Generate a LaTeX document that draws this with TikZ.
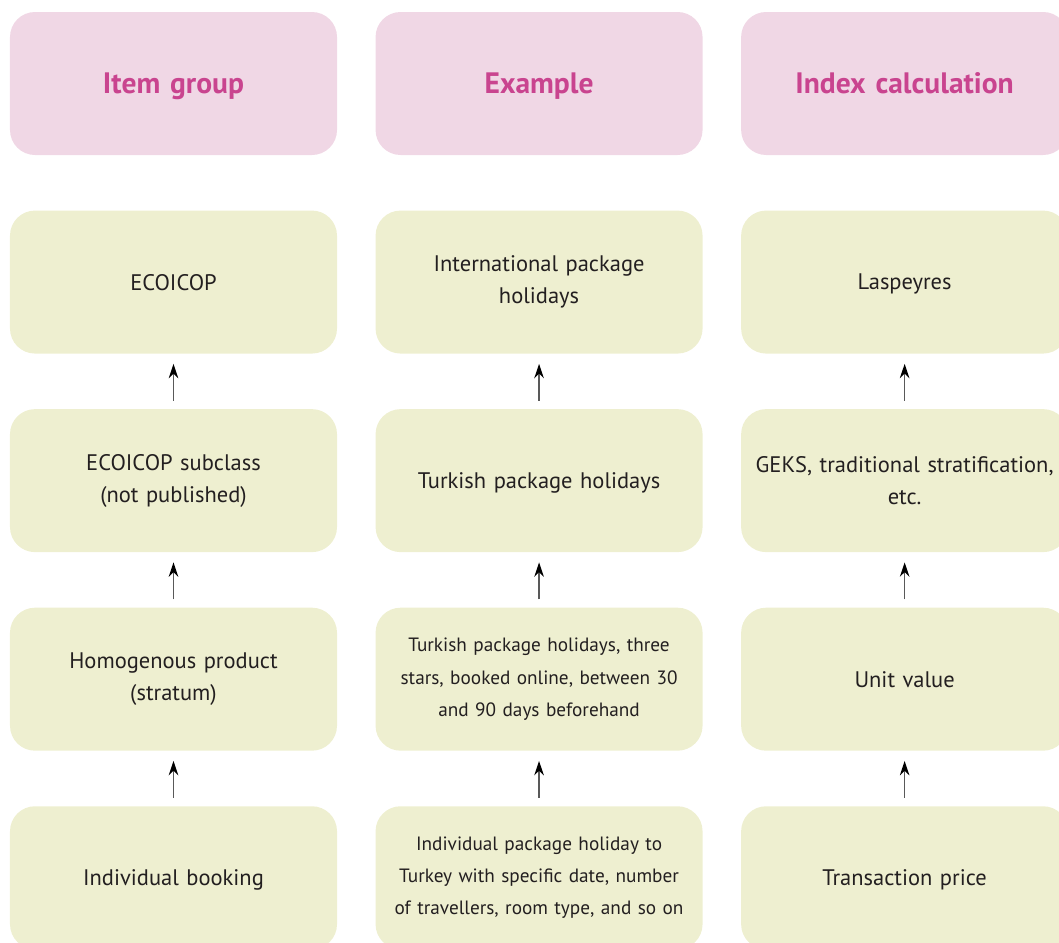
\documentclass[tikz,border=0pt]{standalone}
\usepackage{fontspec}
\setmainfont{PT Sans}
\usetikzlibrary{positioning,arrows.meta}

\definecolor{headfill}{HTML}{F0D7E5}
\definecolor{headtext}{HTML}{C9448F}
\definecolor{boxfill}{HTML}{EEEFD0}
\definecolor{boxtext}{HTML}{231F20}

\tikzset{
  cell/.style={rectangle, rounded corners=0.625cm, fill=boxfill, text=boxtext,
    minimum width=8.175cm, minimum height=3.575cm, text width=7.9cm,
    align=center, inner sep=0pt, font=\fontsize{16}{22.8}\selectfont},
  single/.style={cell, text depth=0pt},
  small/.style={font=\fontsize{13.7}{22.8}\selectfont},
  head/.style={single, fill=headfill, text=headtext,
    font=\fontsize{21}{24}\selectfont\bfseries},
  up/.style={draw=gray!70!black, line width=1pt, -{Stealth[black,length=0.36cm,width=0.24cm]},
    shorten <=0.2cm, shorten >=0.25cm}
}

\begin{document}
\begin{tikzpicture}[node distance=1.375cm and 0.95cm]
\useasboundingbox (0,0) rectangle (26.475,-23.55);

% headings
\node [head] (h1) at (4.3375,-2.0875) {Item group};
\node [head, right=of h1] (h2) {Example};
\node [head, right=of h2] (h3) {Index calculation};

% item group
\node [single, below=of h1] (a1) {ECOICOP};
\node [cell, below=of a1] (a2) {ECOICOP subclass\\(not published)};
\node [cell, below=of a2] (a3) {Homogenous product\\(stratum)};
\node [single, below=of a3] (a4) {Individual booking};

% example
\node [cell, below=of h2] (b1) {International package\\holidays};
\node [single, below=of b1] (b2) {Turkish package holidays};
\node [cell, small, below=of b2] (b3) {Turkish package holidays, three\\stars, booked online, between 30\\and 90 days beforehand};
\node [cell, small, below=of b3] (b4) {Individual package holiday to\\Turkey with specific date, number\\of travellers, room type, and so on};

% index calculation
\node [single, below=of h3] (c1) {Laspeyres};
\node [cell, below=of c1] (c2) {GEKS, traditional stratification,\\etc.};
\node [single, below=of c2] (c3) {Unit value};
\node [single, below=of c3] (c4) {Transaction price};

\draw [up] (a2) -- (a1);
\draw [up] (a3) -- (a2);
\draw [up] (a4) -- (a3);
\draw [up] (b2) -- (b1);
\draw [up] (b3) -- (b2);
\draw [up] (b4) -- (b3);
\draw [up] (c2) -- (c1);
\draw [up] (c3) -- (c2);
\draw [up] (c4) -- (c3);
\end{tikzpicture}
\end{document}
